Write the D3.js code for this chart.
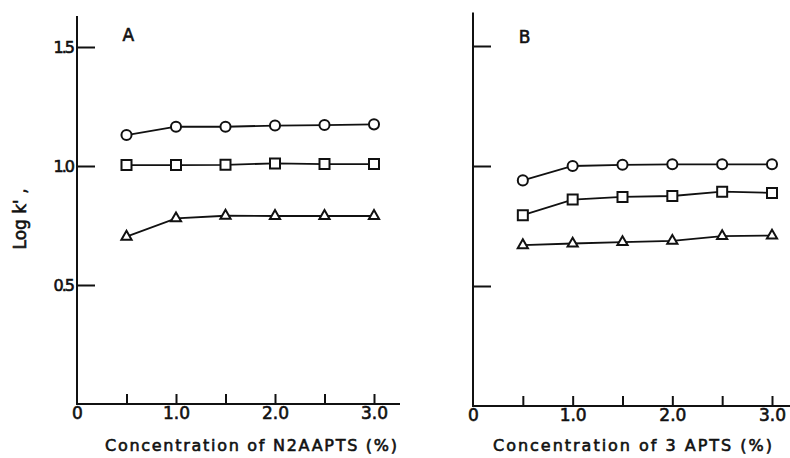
<!DOCTYPE html>
<html lang="en">
<head>
<meta charset="UTF-8">
<title>Log k' vs concentration</title>
<script src="https://d3js.org/d3.v7.min.js"></script>
<style>
  body { margin: 0; background: #fff; }
  svg text { font-family: "DejaVu Sans", sans-serif; fill: #111; stroke: #111; stroke-width: 0.6px; }
  .domain, .tick line { stroke: #111; }
</style>
</head>
<body>
<svg width="790" height="458"></svg>
<script>
// concentrations (%)
var conc = [0.5, 1.0, 1.5, 2.0, 2.5, 3.0];
// panel A: N2AAPTS
var aCircle   = [1.13, 1.165, 1.165, 1.17, 1.172, 1.175];
var aSquare   = [1.004, 1.004, 1.005, 1.011, 1.008, 1.008];
var aTriangle = [0.703, 0.78, 0.791, 0.79, 0.79, 0.79];
// panel B: 3 APTS
var bCircle   = [0.94, 1.0, 1.005, 1.007, 1.007, 1.007];
var bSquare   = [0.795, 0.86, 0.871, 0.875, 0.893, 0.888];
var bTriangle = [0.67, 0.677, 0.683, 0.688, 0.708, 0.71];
var yTicks = [0.5, 1.0, 1.5];
var xTicks = [0.5, 1.0, 1.5, 2.0, 2.5, 3.0];
var xLabels = [0, 1, 2, 3];

var svg = d3.select("svg");

function panel(opt) {
  var x = d3.scaleLinear([0, 3], [opt.x0, opt.x3]);
  var y = d3.scaleLinear([0, 1.5], [opt.base, opt.y15]);
  var g = svg.append("g");

  // x axis: ticks upward, no labels
  g.append("g").attr("transform", "translate(0," + opt.base + ")")
    .call(d3.axisBottom(x).tickValues(xTicks).tickSize(-10).tickFormat(""))
    .call(function (s) { s.select(".domain").remove(); })
    .selectAll("line").attr("stroke-width", 2);
  g.append("line").attr("x1", opt.x0).attr("x2", opt.xEnd)
    .attr("y1", opt.base).attr("y2", opt.base)
    .attr("stroke", "#111").attr("stroke-width", 2);
  // x labels
  g.append("g").attr("transform", "translate(0," + opt.base + ")")
    .call(d3.axisBottom(x).tickValues(xLabels).tickSize(0).tickPadding(3)
      .tickFormat(function (d) { return d === 0 ? "0" : d3.format(".1f")(d); }))
    .call(function (s) { s.select(".domain").remove(); s.attr("font-size", null).attr("font-family", null); })
    .selectAll("text").style("font-size", "17px");

  // y axis
  var ya = g.append("g").attr("transform", "translate(" + opt.x0 + ",0)")
    .call(d3.axisLeft(y).tickValues(yTicks).tickSize(-18).tickPadding(4)
      .tickFormat(opt.yLabels ? d3.format(".1f") : ""))
    .call(function (s) { s.select(".domain").remove(); s.attr("font-size", null).attr("font-family", null); });
  ya.selectAll("line").attr("stroke-width", 2);
  ya.selectAll("text").style("font-size", "16px").style("letter-spacing", "-2px");
  g.append("line").attr("x1", opt.x0).attr("x2", opt.x0)
    .attr("y1", opt.base + 1).attr("y2", y(opt.yTop))
    .attr("stroke", "#111").attr("stroke-width", 2);

  // panel letter
  g.append("text").attr("x", x(0.5) - 4).attr("y", opt.base - 363)
    .style("font-size", "17px").text(opt.letter);

  // x title
  g.append("text").attr("x", opt.titleX).attr("y", 451)
    .style("font-size", "16px").attr("textLength", opt.titleW)
    .text(opt.title);

  var line = d3.line().x(function (d) { return x(d[0]); }).y(function (d) { return y(d[1]); });
  opt.series.forEach(function (s) {
    var pts = conc.map(function (c, i) { return [c, s.values[i]]; });
    g.append("path").datum(pts).attr("d", line)
      .attr("fill", "none").attr("stroke", "#111").attr("stroke-width", 1.8);
    var sym = d3.symbol().type(s.type).size(s.size);
    g.selectAll(null).data(pts).enter().append("path")
      .attr("d", sym)
      .attr("transform", function (d) { return "translate(" + x(d[0]) + "," + y(d[1]) + ")"; })
      .attr("fill", "#fff").attr("stroke", "#111").attr("stroke-width", 2);
  });
}

var series = function (c, s, t) {
  return [
    { values: c, type: d3.symbolCircle, size: 80 },
    { values: s, type: d3.symbolSquare, size: 100 },
    { values: t, type: d3.symbolTriangle, size: 45 }
  ];
};

panel({ x0: 77, x3: 374, xEnd: 400, base: 404, y15: 47, yTop: 1.63, yLabels: true,
  letter: "A", title: "Concentration  of  N2AAPTS (%)", titleX: 105, titleW: 292,
  series: series(aCircle, aSquare, aTriangle) });
panel({ x0: 473, x3: 772, xEnd: 790, base: 406, y15: 46, yTop: 1.64, yLabels: false,
  letter: "B", title: "Concentration of  3 APTS  (%)", titleX: 493, titleW: 279,
  series: series(bCircle, bSquare, bTriangle) });

// y title
svg.append("text").attr("transform", "translate(26,219) rotate(-90)")
  .attr("text-anchor", "middle").style("font-size", "17px").text("Log k' ,");
</script>
</body>
</html>
